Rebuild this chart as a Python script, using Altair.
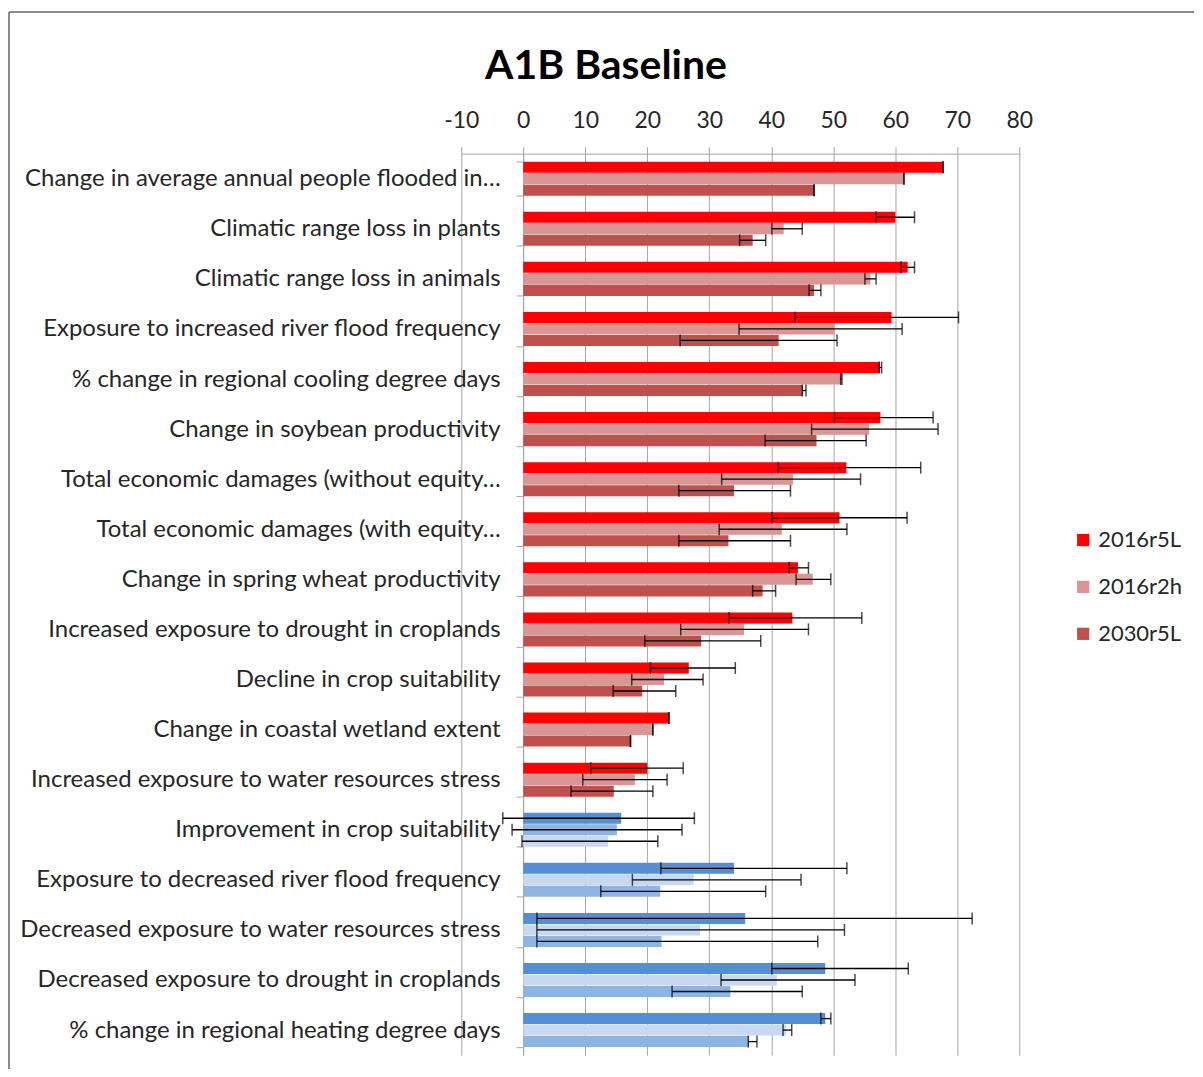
import altair as alt
import pandas as pd

categories = [
    "Change in average annual people flooded in…",
    "Climatic range loss in plants",
    "Climatic range loss in animals",
    "Exposure to increased river flood frequency",
    "% change in regional cooling degree days",
    "Change in soybean productivity",
    "Total economic damages (without equity…",
    "Total economic damages (with equity…",
    "Change in spring wheat productivity",
    "Increased exposure to drought in croplands",
    "Decline in crop suitability",
    "Change in coastal wetland extent",
    "Increased exposure to water resources stress",
    "Improvement in crop suitability",
    "Exposure to decreased river flood frequency",
    "Decreased exposure to water resources stress",
    "Decreased exposure to drought in croplands",
    "% change in regional heating degree days",
]
series = ["2016r5L", "2016r2h", "2030r5L"]
title_text = "A1B Baseline"

# values per series
v_2016r5L = [67.7, 60.0, 62.0, 59.4, 57.5, 57.6, 52.1, 51.0, 44.3, 43.4, 26.7, 23.5, 20.0, 15.8, 34.0, 35.8, 48.7, 48.7]
v_2016r2h = [61.4, 42.0, 56.0, 50.2, 51.3, 55.8, 43.5, 41.7, 46.7, 35.6, 22.7, 20.9, 18.0, 15.1, 27.5, 28.5, 40.9, 42.4]
v_2030r5L = [46.9, 37.0, 46.9, 41.2, 45.1, 47.3, 34.0, 33.1, 38.6, 28.7, 19.2, 17.3, 14.6, 13.7, 22.1, 22.3, 33.4, 36.4]

# error-bar low / high ends per series
lo_2016r5L = [67.7, 56.9, 60.9, 43.8, 57.4, 50.2, 41.1, 40.1, 42.9, 33.2, 20.5, 23.5, 10.9, -3.3, 22.2, 2.2, 40.1, 48.0]
hi_2016r5L = [67.7, 63.1, 63.1, 70.2, 57.8, 66.1, 64.1, 61.9, 46.0, 54.6, 34.2, 23.5, 25.8, 27.6, 52.2, 72.4, 62.1, 49.6]
lo_2016r2h = [61.4, 40.1, 55.1, 34.8, 51.2, 46.5, 32.0, 31.6, 44.0, 25.4, 17.5, 20.9, 9.6, -1.8, 17.6, 2.2, 31.9, 41.9]
hi_2016r2h = [61.4, 45.0, 56.9, 61.1, 51.4, 66.9, 54.4, 52.2, 49.6, 46.0, 29.0, 20.9, 23.2, 25.6, 44.8, 51.8, 53.5, 43.3]
lo_2030r5L = [46.9, 34.9, 46.1, 25.3, 45.0, 39.0, 25.1, 25.1, 37.0, 19.6, 14.5, 17.3, 7.7, -0.2, 12.5, 2.2, 24.0, 36.3]
hi_2030r5L = [46.9, 39.1, 48.0, 50.6, 45.6, 55.3, 43.1, 43.1, 40.7, 38.3, 24.6, 17.3, 20.9, 21.7, 39.1, 47.5, 45.0, 37.7]

red_colors = ["#FF0000", "#D99694", "#C0504D"]
blue_dark, blue_mid, blue_light = "#558ED5", "#8EB4E3", "#C6D9F1"
n_red = 13
blue_fills = [
    [blue_dark, blue_mid, blue_light],
    [blue_dark, blue_light, blue_mid],
    [blue_dark, blue_light, blue_mid],
    [blue_dark, blue_light, blue_mid],
    [blue_dark, blue_light, blue_mid],
]

vals = [v_2016r5L, v_2016r2h, v_2030r5L]
los = [lo_2016r5L, lo_2016r2h, lo_2030r5L]
his = [hi_2016r5L, hi_2016r2h, hi_2030r5L]

rows = []
for i, c in enumerate(categories):
    for j, s in enumerate(series):
        if i < n_red:
            grp, fill = "red", red_colors[j]
        else:
            grp, fill = "blue", blue_fills[i - n_red][j]
        rows.append(dict(cat=c, series=s, value=vals[j][i], lo=los[j][i], hi=his[j][i], grp=grp, fill=fill))
df = pd.DataFrame(rows)

FONT = "Lato"
TXT = "#262626"
GRID = "#A6A6A6"

W, H = 559, 903

x_enc = alt.X(
    "value:Q",
    scale=alt.Scale(domain=[-10, 80], nice=False, zero=False),
    axis=alt.Axis(
        orient="top", values=list(range(-10, 81, 10)), labelExpr="'' + datum.value", title=None,
        grid=True, gridColor=GRID, gridWidth=1, domainColor=GRID, tickColor=GRID,
        tickSize=7, labelFontSize=23, labelFont=FONT, labelColor=TXT, labelPadding=14,
        labelFlush=False, labelOverlap=False,
    ),
)
y_enc = alt.Y(
    "cat:N", sort=categories,
    scale=alt.Scale(domain=categories, paddingInner=0.32, paddingOuter=0.16),
    axis=alt.Axis(
        title=None, offset=-62, tickBand="extent", tickSize=7, tickColor=GRID,
        domainColor=GRID, labelFontSize=24, labelFont=FONT, labelColor=TXT,
        labelPadding=16, labelLimit=700,
    ),
)
yoff = alt.YOffset("series:N", sort=series, scale=alt.Scale(domain=series, paddingInner=0.04, paddingOuter=0))

base = alt.Chart(df)

bars_red = base.transform_filter(alt.datum.grp == "red").mark_bar().encode(
    x=x_enc, x2=alt.X2(datum=0), y=y_enc, yOffset=yoff,
    color=alt.Color(
        "series:N", sort=series,
        scale=alt.Scale(domain=series, range=red_colors),
        legend=alt.Legend(
            title=None, orient="none", legendX=612, legendY=376, symbolType="square",
            symbolSize=150, symbolStrokeWidth=0, labelFontSize=22, labelFont=FONT,
            labelColor=TXT, rowPadding=25, labelOffset=4,
        ),
    ),
)
bars_blue = base.transform_filter(alt.datum.grp == "blue").mark_bar().encode(
    x=alt.X("value:Q"), x2=alt.X2(datum=0), y=alt.Y("cat:N", sort=categories), yOffset=yoff,
    color=alt.Color("fill:N", scale=None),
)
err = base.mark_rule(color="black", strokeWidth=1.3).encode(
    x="lo:Q", x2="hi:Q", y=alt.Y("cat:N", sort=categories), yOffset=yoff,
)
cap_lo = base.mark_tick(color="black", thickness=1.5, size=12, orient="vertical").encode(
    x="lo:Q", y=alt.Y("cat:N", sort=categories), yOffset=yoff,
)
cap_hi = base.mark_tick(color="black", thickness=1.5, size=12, orient="vertical").encode(
    x="hi:Q", y=alt.Y("cat:N", sort=categories), yOffset=yoff,
)

one = pd.DataFrame({"t": [title_text]})
title_mark = alt.Chart(one).mark_text(
    font=FONT, fontSize=41, fontWeight="bold", color="black", align="center", baseline="alphabetic"
).encode(text="t:N", x=alt.value(145), y=alt.value(-75))
frame_top = alt.Chart(one).mark_rule(color="#8C8C8C", strokeWidth=2).encode(
    x=alt.value(-453), x2=alt.value(734), y=alt.value(-142)
)
frame_left = alt.Chart(one).mark_rule(color="#8C8C8C", strokeWidth=2).encode(
    x=alt.value(-453), y=alt.value(-142), y2=alt.value(917)
)

chart = alt.layer(bars_red, bars_blue, err, cap_lo, cap_hi, title_mark, frame_top, frame_left).properties(
    width=W, height=H,
    padding={"top": 2, "left": 0, "right": 0, "bottom": 0},
).configure_view(stroke=None)

chart.save("out.html", embed_options={"renderer": "svg", "actions": False})
